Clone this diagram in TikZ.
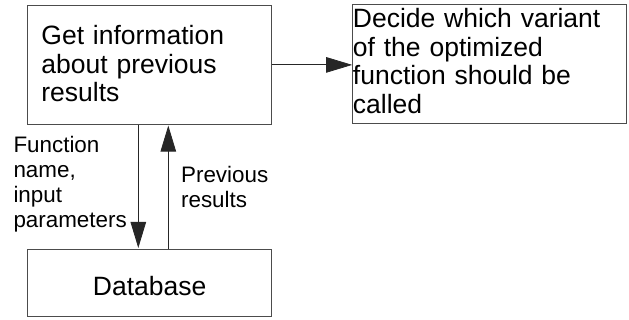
\documentclass[tikz,border=0pt]{standalone}
\usepackage{fontspec}
\setmainfont{Liberation Sans}
\usetikzlibrary{arrows.meta}
\tikzset{
  box/.style={draw=black!70, line width=1pt, rectangle, align=left, inner xsep=0pt, inner ysep=0pt,
    font=\fontsize{26.5}{28.5}\selectfont},
  lbl/.style={inner sep=0pt, align=left, anchor=north west, font=\fontsize{22.4}{25}\selectfont},
  arr/.style={line width=0.8pt, draw=black!85, -{Triangle[length=26pt,width=15.5pt]}}
}
\begin{document}
\begin{tikzpicture}[x=1pt, y=-1pt]
\useasboundingbox (0,0) rectangle (629,320);
\node[box, minimum width=244pt, minimum height=118.3pt, text width=216.6pt] (info) at (149.7,64.9)
  {\rule{0pt}{20pt}Get information\\about previous\\results\rule[-3pt]{0pt}{3pt}};
\node[box, minimum width=273.3pt, minimum height=119pt, text width=272.8pt] (decide) at (489.35,64.5)
  {\rule{0pt}{20pt}Decide which variant\\of the optimized\\function should be\\called\rule[-7.5pt]{0pt}{7.5pt}};
\node[box, minimum width=244pt, minimum height=66pt, align=center] (db) at (149.7,283)
  {\rule{0pt}{26pt}Database};
\node[lbl] (fn) at (13.3,135) {\rule{0pt}{17pt}Function\\name,\\input\\parameters};
\node[lbl] (prev) at (180.9,165) {\rule{0pt}{17pt}Previous\\results};
\draw[arr] (info.east) -- (info.east -| decide.west);
\draw[arr] ([xshift=-11.4pt]info.south) -- ([xshift=-11.4pt,yshift=1.5pt]db.north);
\draw[arr] ([xshift=18.6pt]db.north) -- ([xshift=18.6pt,yshift=-1pt]info.south);
\end{tikzpicture}
\end{document}
